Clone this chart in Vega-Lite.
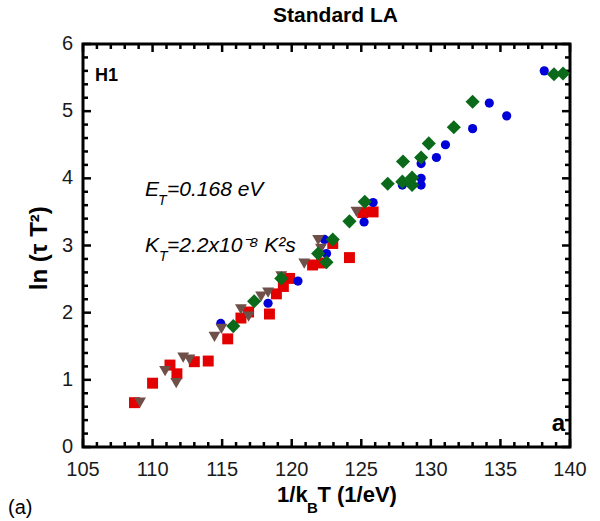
{
  "$schema": "https://vega.github.io/schema/vega-lite/v6.json",
  "width": 487,
  "height": 403,
  "autosize": {"type": "none"},
  "padding": {"left": 83, "top": 44, "right": 30, "bottom": 74},
  "background": "white",
  "title": {"text": "Standard LA", "fontSize": 21, "fontWeight": "bold", "font": "Liberation Sans", "color": "black", "offset": 8, "anchor": "middle", "dx": 9},
  "config": {
    "view": {"stroke": "black", "strokeWidth": 3, "fill": null},
    "font": "Liberation Sans"
  },
  "datasets": {
    "xmajor": [{"v": 105}, {"v": 110}, {"v": 115}, {"v": 120}, {"v": 125}, {"v": 130}, {"v": 135}, {"v": 140}],
    "xminor": [{"v": 106}, {"v": 107}, {"v": 108}, {"v": 109}, {"v": 111}, {"v": 112}, {"v": 113}, {"v": 114}, {"v": 116}, {"v": 117}, {"v": 118}, {"v": 119}, {"v": 121}, {"v": 122}, {"v": 123}, {"v": 124}, {"v": 126}, {"v": 127}, {"v": 128}, {"v": 129}, {"v": 131}, {"v": 132}, {"v": 133}, {"v": 134}, {"v": 136}, {"v": 137}, {"v": 138}, {"v": 139}],
    "ymajor": [{"v": 0}, {"v": 1}, {"v": 2}, {"v": 3}, {"v": 4}, {"v": 5}, {"v": 6}],
    "yminor": [{"v": 0.2}, {"v": 0.4}, {"v": 0.6}, {"v": 0.8}, {"v": 1.2}, {"v": 1.4}, {"v": 1.6}, {"v": 1.8}, {"v": 2.2}, {"v": 2.4}, {"v": 2.6}, {"v": 2.8}, {"v": 3.2}, {"v": 3.4}, {"v": 3.6}, {"v": 3.8}, {"v": 4.2}, {"v": 4.4}, {"v": 4.6}, {"v": 4.8}, {"v": 5.2}, {"v": 5.4}, {"v": 5.6}, {"v": 5.8}],
    "points": [
      {"series": "R", "x": 108.7, "y": 0.66},
      {"series": "R", "x": 110.0, "y": 0.95},
      {"series": "R", "x": 111.25, "y": 1.22},
      {"series": "R", "x": 111.75, "y": 1.09},
      {"series": "R", "x": 113.0, "y": 1.27},
      {"series": "R", "x": 114.0, "y": 1.28},
      {"series": "R", "x": 115.4, "y": 1.61},
      {"series": "R", "x": 116.35, "y": 1.92},
      {"series": "R", "x": 116.9, "y": 2.01},
      {"series": "R", "x": 118.4, "y": 1.98},
      {"series": "R", "x": 118.9, "y": 2.28},
      {"series": "R", "x": 119.4, "y": 2.39},
      {"series": "R", "x": 119.85, "y": 2.51},
      {"series": "R", "x": 121.5, "y": 2.71},
      {"series": "R", "x": 122.15, "y": 2.74},
      {"series": "R", "x": 122.95, "y": 3.03},
      {"series": "R", "x": 124.15, "y": 2.82},
      {"series": "R", "x": 125.1, "y": 3.49},
      {"series": "R", "x": 125.85, "y": 3.5},
      {"series": "C", "x": 114.9, "y": 1.84},
      {"series": "C", "x": 118.3, "y": 2.14},
      {"series": "C", "x": 120.45, "y": 2.47},
      {"series": "C", "x": 122.5, "y": 2.88},
      {"series": "C", "x": 122.35, "y": 3.09},
      {"series": "C", "x": 125.2, "y": 3.35},
      {"series": "C", "x": 125.85, "y": 3.64},
      {"series": "C", "x": 127.95, "y": 3.9},
      {"series": "C", "x": 129.3, "y": 3.9},
      {"series": "C", "x": 129.3, "y": 4.0},
      {"series": "C", "x": 129.3, "y": 4.22},
      {"series": "C", "x": 130.4, "y": 4.31},
      {"series": "C", "x": 131.05, "y": 4.5},
      {"series": "C", "x": 133.0, "y": 4.74},
      {"series": "C", "x": 134.2, "y": 5.12},
      {"series": "C", "x": 135.45, "y": 4.93},
      {"series": "C", "x": 138.15, "y": 5.6},
      {"series": "V", "x": 109.1, "y": 0.66},
      {"series": "V", "x": 110.9, "y": 1.13},
      {"series": "V", "x": 111.7, "y": 0.95},
      {"series": "V", "x": 112.2, "y": 1.33},
      {"series": "V", "x": 112.65, "y": 1.3},
      {"series": "V", "x": 114.45, "y": 1.64},
      {"series": "V", "x": 114.95, "y": 1.76},
      {"series": "V", "x": 116.35, "y": 2.05},
      {"series": "V", "x": 116.9, "y": 1.94},
      {"series": "V", "x": 117.8, "y": 2.24},
      {"series": "V", "x": 118.3, "y": 2.3},
      {"series": "V", "x": 119.25, "y": 2.54},
      {"series": "V", "x": 120.9, "y": 2.73},
      {"series": "V", "x": 122.1, "y": 2.95},
      {"series": "V", "x": 121.9, "y": 3.08},
      {"series": "V", "x": 124.65, "y": 3.5},
      {"series": "D", "x": 115.8, "y": 1.8},
      {"series": "D", "x": 117.3, "y": 2.17},
      {"series": "D", "x": 119.25, "y": 2.51},
      {"series": "D", "x": 121.9, "y": 2.88},
      {"series": "D", "x": 122.5, "y": 2.75},
      {"series": "D", "x": 122.95, "y": 3.09},
      {"series": "D", "x": 124.15, "y": 3.36},
      {"series": "D", "x": 125.25, "y": 3.65},
      {"series": "D", "x": 126.9, "y": 3.92},
      {"series": "D", "x": 127.95, "y": 3.95},
      {"series": "D", "x": 128.0, "y": 4.25},
      {"series": "D", "x": 128.65, "y": 4.01},
      {"series": "D", "x": 128.65, "y": 3.9},
      {"series": "D", "x": 129.3, "y": 4.31},
      {"series": "D", "x": 129.85, "y": 4.52},
      {"series": "D", "x": 131.65, "y": 4.76},
      {"series": "D", "x": 133.0, "y": 5.14},
      {"series": "D", "x": 138.85, "y": 5.55},
      {"series": "D", "x": 139.5, "y": 5.56}
    ],
    "h1": [{"x": 105.86, "y": 5.52, "text": "H1"}],
    "note_main": [
      {"x": 109.456, "y": 3.737, "text": "E"},
      {"x": 111.037, "y": 3.737, "text": "=0.168 eV"},
      {"x": 109.456, "y": 2.903, "text": "K"},
      {"x": 111.037, "y": 2.903, "text": "=2.2x10⁻⁸ K²s"}
    ],
    "note_sub": [
      {"x": 110.39, "y": 3.6, "text": "T"},
      {"x": 110.46, "y": 2.77, "text": "T"}
    ],
    "corner": [{"x": 139.64, "y": 0.24, "text": "a"}],
    "xtitle_main": [
      {"x": 118.95, "y": -0.819, "text": "1/k"},
      {"x": 121.85, "y": -0.819, "text": "T (1/eV)"}
    ],
    "xtitle_sub": [{"x": 121.1, "y": -0.983, "text": "B"}],
    "ytitle": [{"x": 101.91, "y": 2.96, "text": "ln (τ T²)"}],
    "panel": [{"x": 99.61, "y": -0.997, "text": "(a)"}]
  },
  "layer": [
    {
      "data": {"name": "xmajor"},
      "mark": {"type": "tick", "orient": "vertical", "color": "black", "opacity": 1, "size": 8, "thickness": 2.5, "yOffset": -4},
      "encoding": {
        "x": {"field": "v", "type": "quantitative", "axis": null, "scale": {"domain": [105, 140], "nice": false, "zero": false}},
        "y": {"datum": 0, "type": "quantitative", "axis": null, "scale": {"domain": [0, 6], "nice": false, "zero": false}}
      }
    },
    {
      "data": {"name": "xmajor"},
      "mark": {"type": "tick", "orient": "vertical", "color": "black", "opacity": 1, "size": 8, "thickness": 2.5, "yOffset": 4},
      "encoding": {
        "x": {"field": "v", "type": "quantitative", "axis": null, "scale": {"domain": [105, 140], "nice": false, "zero": false}},
        "y": {"datum": 6, "type": "quantitative", "axis": null, "scale": {"domain": [0, 6], "nice": false, "zero": false}}
      }
    },
    {
      "data": {"name": "xminor"},
      "mark": {"type": "tick", "orient": "vertical", "color": "black", "opacity": 1, "size": 5, "thickness": 2.5, "yOffset": -2.5},
      "encoding": {
        "x": {"field": "v", "type": "quantitative", "axis": null, "scale": {"domain": [105, 140], "nice": false, "zero": false}},
        "y": {"datum": 0, "type": "quantitative", "axis": null, "scale": {"domain": [0, 6], "nice": false, "zero": false}}
      }
    },
    {
      "data": {"name": "xminor"},
      "mark": {"type": "tick", "orient": "vertical", "color": "black", "opacity": 1, "size": 5, "thickness": 2.5, "yOffset": 2.5},
      "encoding": {
        "x": {"field": "v", "type": "quantitative", "axis": null, "scale": {"domain": [105, 140], "nice": false, "zero": false}},
        "y": {"datum": 6, "type": "quantitative", "axis": null, "scale": {"domain": [0, 6], "nice": false, "zero": false}}
      }
    },
    {
      "data": {"name": "ymajor"},
      "mark": {"type": "tick", "orient": "horizontal", "color": "black", "opacity": 1, "size": 8, "thickness": 2.5, "xOffset": 4},
      "encoding": {
        "y": {"field": "v", "type": "quantitative", "axis": null, "scale": {"domain": [0, 6], "nice": false, "zero": false}},
        "x": {"datum": 105, "type": "quantitative", "axis": null, "scale": {"domain": [105, 140], "nice": false, "zero": false}}
      }
    },
    {
      "data": {"name": "ymajor"},
      "mark": {"type": "tick", "orient": "horizontal", "color": "black", "opacity": 1, "size": 8, "thickness": 2.5, "xOffset": -4},
      "encoding": {
        "y": {"field": "v", "type": "quantitative", "axis": null, "scale": {"domain": [0, 6], "nice": false, "zero": false}},
        "x": {"datum": 140, "type": "quantitative", "axis": null, "scale": {"domain": [105, 140], "nice": false, "zero": false}}
      }
    },
    {
      "data": {"name": "yminor"},
      "mark": {"type": "tick", "orient": "horizontal", "color": "black", "opacity": 1, "size": 5, "thickness": 2.5, "xOffset": 2.5},
      "encoding": {
        "y": {"field": "v", "type": "quantitative", "axis": null, "scale": {"domain": [0, 6], "nice": false, "zero": false}},
        "x": {"datum": 105, "type": "quantitative", "axis": null, "scale": {"domain": [105, 140], "nice": false, "zero": false}}
      }
    },
    {
      "data": {"name": "yminor"},
      "mark": {"type": "tick", "orient": "horizontal", "color": "black", "opacity": 1, "size": 5, "thickness": 2.5, "xOffset": -2.5},
      "encoding": {
        "y": {"field": "v", "type": "quantitative", "axis": null, "scale": {"domain": [0, 6], "nice": false, "zero": false}},
        "x": {"datum": 140, "type": "quantitative", "axis": null, "scale": {"domain": [105, 140], "nice": false, "zero": false}}
      }
    },
    {
      "data": {"name": "xmajor"},
      "mark": {"type": "text", "align": "center", "baseline": "top", "dy": 13, "fontSize": 20, "color": "#1a1a1a"},
      "encoding": {
        "x": {"field": "v", "type": "quantitative", "axis": null, "scale": {"domain": [105, 140], "nice": false, "zero": false}},
        "y": {"datum": 0, "type": "quantitative", "axis": null, "scale": {"domain": [0, 6], "nice": false, "zero": false}},
        "text": {"field": "v", "type": "quantitative", "format": "d"}
      }
    },
    {
      "data": {"name": "ymajor"},
      "mark": {"type": "text", "align": "right", "baseline": "middle", "dx": -10, "fontSize": 20, "color": "#1a1a1a"},
      "encoding": {
        "y": {"field": "v", "type": "quantitative", "axis": null, "scale": {"domain": [0, 6], "nice": false, "zero": false}},
        "x": {"datum": 105, "type": "quantitative", "axis": null, "scale": {"domain": [105, 140], "nice": false, "zero": false}},
        "text": {"field": "v", "type": "quantitative", "format": "d"}
      }
    },
    {
      "data": {"name": "ytitle"},
      "mark": {"type": "text", "align": "center", "baseline": "middle", "angle": 270, "fontSize": 24, "fontWeight": "bold", "color": "black"},
      "encoding": {
        "x": {"field": "x", "type": "quantitative", "axis": null, "scale": {"domain": [105, 140], "nice": false, "zero": false}},
        "y": {"field": "y", "type": "quantitative", "axis": null, "scale": {"domain": [0, 6], "nice": false, "zero": false}},
        "text": {"field": "text"}
      }
    },
    {
      "data": {"name": "points"},
      "mark": {"type": "point", "filled": true, "opacity": 1, "strokeWidth": 0},
      "encoding": {
        "x": {"field": "x", "type": "quantitative", "axis": null, "scale": {"domain": [105, 140], "nice": false, "zero": false}},
        "y": {"field": "y", "type": "quantitative", "axis": null, "scale": {"domain": [0, 6], "nice": false, "zero": false}},
        "color": {"field": "series", "type": "nominal", "legend": null,
          "scale": {"domain": ["R", "C", "V", "D"], "range": ["#e30000", "#0000d8", "#6e5048", "#0b6a1a"]}},
        "shape": {"field": "series", "type": "nominal", "legend": null,
          "scale": {"domain": ["R", "C", "V", "D"], "range": ["square", "circle", "triangle-down", "diamond"]}},
        "size": {"field": "series", "type": "nominal", "legend": null,
          "scale": {"type": "ordinal", "domain": ["R", "C", "V", "D"], "range": [120, 85, 140, 200]}}
      }
    },
    {
      "data": {"name": "h1"},
      "mark": {"type": "text", "align": "left", "baseline": "middle", "fontSize": 18, "fontWeight": "bold", "color": "black"},
      "encoding": {
        "x": {"field": "x", "type": "quantitative", "axis": null, "scale": {"domain": [105, 140], "nice": false, "zero": false}},
        "y": {"field": "y", "type": "quantitative", "axis": null, "scale": {"domain": [0, 6], "nice": false, "zero": false}},
        "text": {"field": "text"}
      }
    },
    {
      "data": {"name": "note_main"},
      "mark": {"type": "text", "align": "left", "baseline": "alphabetic", "fontSize": 21, "fontStyle": "italic", "color": "black"},
      "encoding": {
        "x": {"field": "x", "type": "quantitative", "axis": null, "scale": {"domain": [105, 140], "nice": false, "zero": false}},
        "y": {"field": "y", "type": "quantitative", "axis": null, "scale": {"domain": [0, 6], "nice": false, "zero": false}},
        "text": {"field": "text"}
      }
    },
    {
      "data": {"name": "note_sub"},
      "mark": {"type": "text", "align": "left", "baseline": "alphabetic", "fontSize": 14, "fontStyle": "italic", "color": "black"},
      "encoding": {
        "x": {"field": "x", "type": "quantitative", "axis": null, "scale": {"domain": [105, 140], "nice": false, "zero": false}},
        "y": {"field": "y", "type": "quantitative", "axis": null, "scale": {"domain": [0, 6], "nice": false, "zero": false}},
        "text": {"field": "text"}
      }
    },
    {
      "data": {"name": "corner"},
      "mark": {"type": "text", "align": "right", "baseline": "alphabetic", "fontSize": 24, "fontWeight": "bold", "color": "black"},
      "encoding": {
        "x": {"field": "x", "type": "quantitative", "axis": null, "scale": {"domain": [105, 140], "nice": false, "zero": false}},
        "y": {"field": "y", "type": "quantitative", "axis": null, "scale": {"domain": [0, 6], "nice": false, "zero": false}},
        "text": {"field": "text"}
      }
    },
    {
      "data": {"name": "xtitle_main"},
      "mark": {"type": "text", "align": "left", "baseline": "alphabetic", "fontSize": 22, "fontWeight": "bold", "color": "black"},
      "encoding": {
        "x": {"field": "x", "type": "quantitative", "axis": null, "scale": {"domain": [105, 140], "nice": false, "zero": false}},
        "y": {"field": "y", "type": "quantitative", "axis": null, "scale": {"domain": [0, 6], "nice": false, "zero": false}},
        "text": {"field": "text"}
      }
    },
    {
      "data": {"name": "xtitle_sub"},
      "mark": {"type": "text", "align": "left", "baseline": "alphabetic", "fontSize": 15, "fontWeight": "bold", "color": "black"},
      "encoding": {
        "x": {"field": "x", "type": "quantitative", "axis": null, "scale": {"domain": [105, 140], "nice": false, "zero": false}},
        "y": {"field": "y", "type": "quantitative", "axis": null, "scale": {"domain": [0, 6], "nice": false, "zero": false}},
        "text": {"field": "text"}
      }
    },
    {
      "data": {"name": "panel"},
      "mark": {"type": "text", "align": "left", "baseline": "alphabetic", "fontSize": 20, "color": "black"},
      "encoding": {
        "x": {"field": "x", "type": "quantitative", "axis": null, "scale": {"domain": [105, 140], "nice": false, "zero": false}},
        "y": {"field": "y", "type": "quantitative", "axis": null, "scale": {"domain": [0, 6], "nice": false, "zero": false}},
        "text": {"field": "text"}
      }
    }
  ]
}
